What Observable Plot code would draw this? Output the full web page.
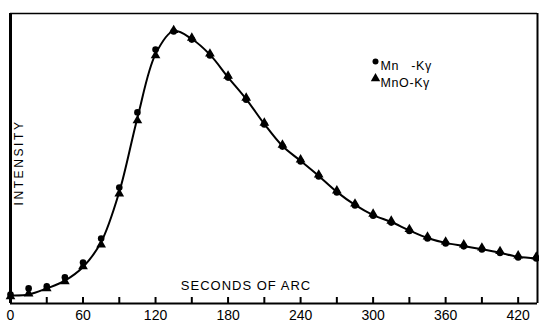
<!DOCTYPE html>
<html><head><meta charset="utf-8">
<script src="https://cdn.jsdelivr.net/npm/d3@7"></script>
<script src="https://cdn.jsdelivr.net/npm/@observablehq/plot@0.6"></script>
<style>
html,body{margin:0;padding:0;background:#fff;}
svg{display:block;}
</style>
</head><body>
<div id="chart"></div>
<script>
// Angular position, seconds of arc
const seconds = [0,15,30,45,60,75,90,105,120,135,150,165,180,195,210,225,240,255,270,285,300,315,330,345,360,375,390,405,420,435];
// Mn - Kγ (circles)
const mnK = [3.1,5.2,5.9,9.0,14.1,22.4,40.0,65.9,87.6,93.8,91.0,85.5,77.9,70.3,61.7,54.1,49.0,43.8,38.3,33.8,30.3,27.9,25.0,22.4,20.7,19.7,18.6,17.4,15.9,15.5];
// MnO - Kγ (triangles)
const mnoK = [2.4,3.4,5.2,7.6,12.8,20.3,37.9,63.1,85.5,94.2,91.6,86.1,78.5,70.9,62.3,54.7,49.6,44.4,38.9,34.4,30.9,28.5,25.6,23.0,21.3,20.3,19.2,18.0,16.5,16.1];
// Drawn smooth curve
const curve = [2.8,3.1,5.2,7.9,12.6,21.2,38.5,64.0,86.0,94.0,91.2,85.8,78.0,70.5,61.9,54.3,49.2,44.0,38.5,34.0,30.5,28.1,25.2,22.6,20.9,19.8,18.7,17.5,16.1,15.6];
// Axis ticks and labels
const xTicks = [0,30,60,90,120,150,180,210,240,270,300,330,360,390,420];
const xLabels = ["0","60","120","180","240","300","360","420"];
const xDomain = [0, 436];
const yDomain = [0, 100];
const legendLabels = ["Mn\u00a0\u00a0\u00a0-K\u03b3", "MnO-K\u03b3"];
const legendSymbols = ["circle", "triangle"];
const xTitle = "SECONDS OF ARC";
const yTitle = "INTENSITY";

const W = 539, H = 322, mT = 13, mB = 19, mL = 10, mR = 2;
const plotH = H - mT - mB;
const font = "'Liberation Sans',Arial,sans-serif";

const pts = (vals) => seconds.map((s, i) => ({s, v: vals[i]}));

const chart = Plot.plot({
  width: W, height: H,
  marginTop: mT, marginBottom: mB, marginLeft: mL, marginRight: mR,
  style: {fontFamily: font, color: "black", background: "white", fontSize: "14px"},
  x: {domain: xDomain, axis: null, label: null},
  y: {domain: yDomain, axis: null, label: null},
  marks: [
    Plot.axisX({ticks: xTicks, tickSize: 0, tickPadding: 7, label: null, fontSize: 14,
      tickFormat: d => xLabels.includes(String(d)) ? String(d) : ""}),
    Plot.tickX(xTicks, {x: d => d, insetTop: plotH - 6, strokeWidth: 2, stroke: "black"}),
    Plot.ruleX([xDomain[0]], {strokeWidth: 3}),
    Plot.ruleX([xDomain[1]], {strokeWidth: 2}),
    Plot.ruleY([yDomain[0]], {strokeWidth: 2}),
    Plot.ruleY([yDomain[1]], {strokeWidth: 1.5}),
    Plot.line(pts(curve), {x: "s", y: "v", curve: "catmull-rom", stroke: "black", strokeWidth: 2}),
    Plot.dot(pts(mnoK), {x: "s", y: "v", symbol: "triangle", r: 3.6, fill: "black", stroke: "none"}),
    Plot.dot(pts(mnK), {x: "s", y: "v", symbol: "circle", r: 3.3, fill: "black", stroke: "none"}),
    Plot.dot([legendSymbols[0]], {frameAnchor: "top-left", dx: 365, dy: 48, symbol: d => d, r: 3, fill: "black"}),
    Plot.dot([legendSymbols[1]], {frameAnchor: "top-left", dx: 365, dy: 65, symbol: d => d, r: 3.5, fill: "black"}),
    Plot.text([legendLabels[0]], {frameAnchor: "top-left", dx: 370, dy: 48, textAnchor: "start", fontSize: 12.5, text: d => d}),
    Plot.text([legendLabels[1]], {frameAnchor: "top-left", dx: 370, dy: 65, textAnchor: "start", fontSize: 12.5, text: d => d}),
    Plot.text([xTitle], {frameAnchor: "bottom", dx: -28, dy: -14, fontSize: 13, text: d => d}),
    Plot.text([yTitle], {frameAnchor: "left", rotate: -90, textAnchor: "middle", dx: 9, dy: 4, fontSize: 12, text: d => d})
  ]
});
const spacing = new Map([[xTitle, "1px"], [yTitle, "2.6px"], [legendLabels[0], "0.6px"], [legendLabels[1], "0.6px"]]);
d3.select(chart).selectAll("text").each(function() {
  const s = spacing.get(this.textContent);
  if (s) this.style.letterSpacing = s;
});
document.getElementById("chart").appendChild(chart);
</script>
</body></html>
